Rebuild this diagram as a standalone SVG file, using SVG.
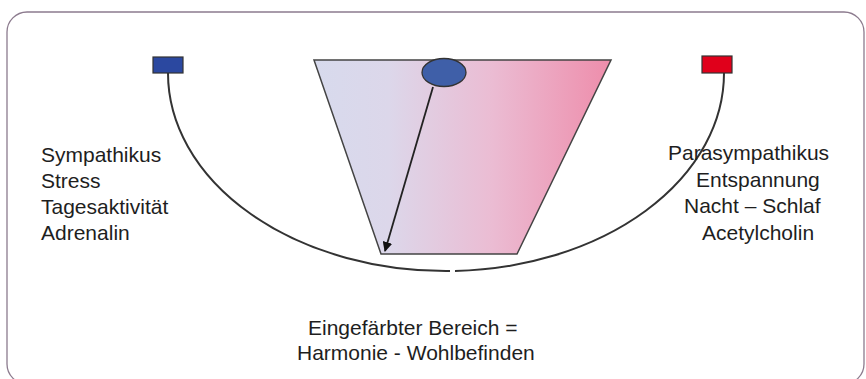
<svg xmlns="http://www.w3.org/2000/svg" width="866" height="379" viewBox="0 0 866 379">
<defs>
<linearGradient id="grad" x1="314" y1="0" x2="611" y2="0" gradientUnits="userSpaceOnUse">
<stop offset="0" stop-color="#d7daed"/>
<stop offset="0.25" stop-color="#dcd7ea"/>
<stop offset="0.6" stop-color="#ebbcd3"/>
<stop offset="1" stop-color="#ee8dab"/>
</linearGradient>
<marker id="ah" viewBox="0 0 10 10" refX="9" refY="5" markerWidth="10" markerHeight="10" markerUnits="userSpaceOnUse" orient="auto">
<path d="M0,0 L10,5 L0,10 z" fill="#111"/>
</marker>
<style>
.lbl{font-family:"Liberation Sans",Arial,sans-serif;font-size:21px;fill:#1e1e1e}
.conn{fill:none;stroke:#333;stroke-width:2}
</style>
</defs>
<rect x="7" y="12" width="857" height="372" rx="20" ry="20" fill="#fff" stroke="#8c7b8e" stroke-width="1.3"/>
<g id="trapezoid">
<polygon points="314,60 611,60 517,254 381,254" fill="url(#grad)" stroke="#444" stroke-width="1.5"/>
</g>
<g id="connectors">
<path class="conn" d="M168,73 A278,198 0 0 0 450,271"/>
<path class="conn" d="M455,271 A278,198 0 0 0 724,73"/>
<line x1="433" y1="87" x2="385" y2="251" stroke="#222" stroke-width="1.8" marker-end="url(#ah)"/>
</g>
<g id="sympathikus-box">
<rect x="153" y="57" width="30" height="16" fill="#2b48a0" stroke="#333" stroke-width="1.2"/>
</g>
<g id="parasympathikus-box">
<rect x="702" y="56" width="30" height="17" fill="#e0001b" stroke="#333" stroke-width="1.2"/>
</g>
<g id="pendulum">
<ellipse cx="444" cy="72.5" rx="22" ry="14" fill="#3f5fa8" stroke="#333" stroke-width="1.3"/>
</g>
<g id="label-left">
<text class="lbl" x="41" y="162">Sympathikus</text>
<text class="lbl" x="41" y="188">Stress</text>
<text class="lbl" x="41" y="214">Tagesaktivität</text>
<text class="lbl" x="41" y="240">Adrenalin</text>
</g>
<g id="label-right">
<text class="lbl" x="668" y="160">Parasympathikus</text>
<text class="lbl" x="696" y="187">Entspannung</text>
<text class="lbl" x="684" y="213">Nacht – Schlaf</text>
<text class="lbl" x="702" y="240">Acetylcholin</text>
</g>
<g id="label-bottom">
<text class="lbl" x="308" y="335">Eingefärbter Bereich =</text>
<text class="lbl" x="297" y="360">Harmonie - Wohlbefinden</text>
</g>
</svg>
